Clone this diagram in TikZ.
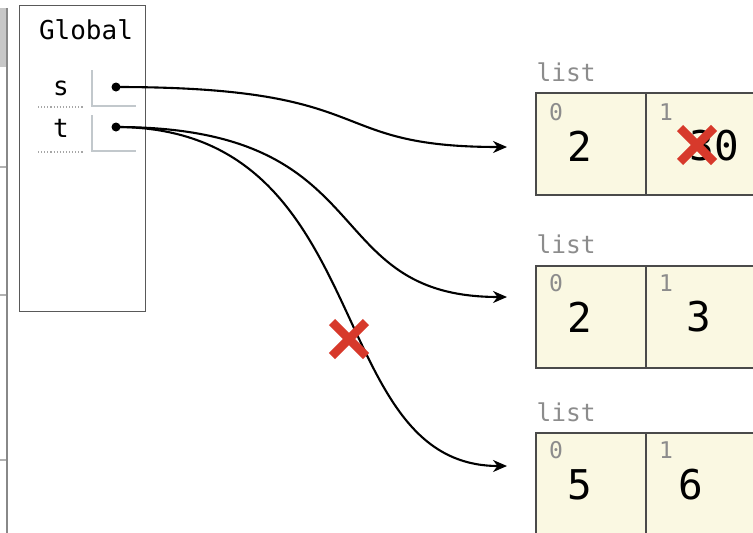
\documentclass[tikz,border=0pt]{standalone}
\usepackage{fontspec}
\setmonofont{DejaVu Sans Mono}
\usetikzlibrary{arrows.meta,calc}
\definecolor{cellfill}{HTML}{FAF8E2}
\definecolor{cellline}{HTML}{4A4A4A}
\definecolor{idxgray}{HTML}{8C8C8C}
\definecolor{xred}{HTML}{D7392B}
\definecolor{stripgray}{HTML}{888888}
\definecolor{vline}{HTML}{C2C8CC}
\tikzset{
  x=1pt, y=-1pt,
  mono/.style={font=\ttfamily, inner sep=0pt},
  namelbl/.style={mono, font=\ttfamily\fontsize{26}{26}\selectfont},
  listlbl/.style={mono, text=idxgray, font=\ttfamily\fontsize{24.5}{24.5}\selectfont},
  idxlbl/.style={mono, text=idxgray, font=\ttfamily\fontsize{23}{23}\selectfont},
  vallbl/.style={mono, font=\ttfamily\fontsize{41}{41}\selectfont},
  cell/.style={draw=cellline, fill=cellfill, line width=1.6pt, minimum width=110pt, minimum height=102pt, inner sep=0pt, anchor=north west},
  ptr/.style={line width=2.1pt, -{Stealth[length=14pt,width=12pt]}},
  crossline/.style={xred, line width=8.5pt},
  dotlbl/.style={draw=black!35, dotted, line width=1.1pt},
}
\begin{document}
\begin{tikzpicture}
\useasboundingbox (0,0) rectangle (753,533);
% left strip
\fill[black!22] (0,8) rectangle (7,67);
\draw[black!30, line width=1.2pt] (0,167) -- (7,167);
\draw[black!30, line width=1.2pt] (0,295) -- (7,295);
\draw[black!30, line width=1.2pt] (0,460) -- (7,460);
\draw[stripgray, line width=2.5pt] (7,8) -- (7,533);
% global frame
\node[draw=black!65, line width=1.4pt, minimum width=126pt, minimum height=306pt, anchor=north west, inner sep=0pt] (frame) at (19,5) {};
\node[namelbl] (glob) at (86,30) {Global};
\node[namelbl] (sname) at (61,88) {s};
\node[namelbl] (tname) at (61,128) {t};
\draw[dotlbl] (38,107) -- (83,107);
\draw[dotlbl] (38,152) -- (83,152);
\draw[vline, line width=1.4pt] (92,70) -- (92,106) -- (136,106);
\draw[vline, line width=1.4pt] (92,115) -- (92,151) -- (136,151);
\coordinate (sp) at (116,87);
\coordinate (tp) at (116,127);
% lists
\begin{scope}
\clip (0,0) rectangle (753,533);
\node[cell] (a0) at (535,92) {};
\node[cell] (a1) at (645,92) {};
\node[cell] (b0) at (535,265) {};
\node[cell] (b1) at (645,265) {};
\node[cell] (c0) at (535,432) {};
\node[cell] (c1) at (645,432) {};
\end{scope}
\node[listlbl] (la) at (566,72) {list};
\node[listlbl] (lb) at (566,244) {list};
\node[listlbl] (lc) at (566,412) {list};
\foreach \n/\y in {a/112, b/283, c/450}{
  \node[idxlbl] (\n i0) at (556,\y) {0};
  \node[idxlbl] (\n i1) at (666,\y) {1};
}
\node[vallbl] (av0) at (580,146) {2};
\node[vallbl] (av1) at (714,146) {30};
\node[vallbl] (bv0) at (580,317) {2};
\node[vallbl] (bv1) at (699,317) {3};
\node[vallbl] (cv0) at (580,485) {5};
\node[vallbl] (cv1) at (691,485) {6};
% arrow targets
\coordinate (ea) at (507,147);
\coordinate (eb) at (507,297);
\coordinate (ec) at (507,466);
\draw[ptr] (sp) .. controls (385,87) and (320,147) .. (ea);
\draw[ptr] (tp) .. controls (385,127) and (315,297) .. (eb);
\draw[ptr] (tp) .. controls (380,127) and (320,466) .. (ec);
\fill (sp) circle (4.5pt);
\fill (tp) circle (4.5pt);
% red crosses
\coordinate (x1) at (697,145);
\coordinate (x2) at (349,339);
\foreach \c in {x1,x2}{
  \draw[crossline] ($(\c)+(-17,-17)$) -- ($(\c)+(17,17)$);
  \draw[crossline] ($(\c)+(-17,17)$) -- ($(\c)+(17,-17)$);
}
\end{tikzpicture}
\end{document}
